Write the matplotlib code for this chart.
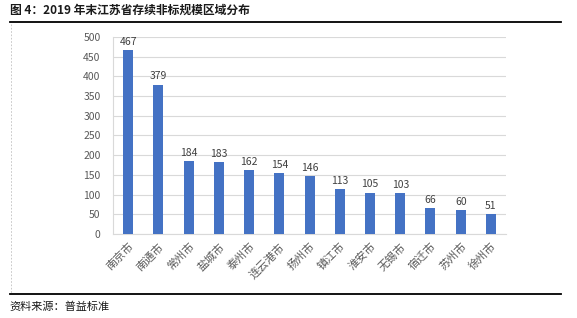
import matplotlib
matplotlib.use("Agg")
import matplotlib.pyplot as plt
from matplotlib.lines import Line2D

plt.rcParams['font.family'] = ['Noto Sans CJK SC', 'DejaVu Sans']

# 数据
cities = ["南京市", "南通市", "常州市", "盐城市", "泰州市", "连云港市", "扬州市",
          "镇江市", "淮安市", "无锡市", "宿迁市", "苏州市", "徐州市"]
values = [467, 379, 184, 183, 162, 154, 146, 113, 105, 103, 66, 60, 51]
yticks = [0, 50, 100, 150, 200, 250, 300, 350, 400, 450, 500]

fig = plt.figure(figsize=(5.77, 3.18), dpi=100)
ax = fig.add_axes([0.196, 0.264, 0.681, 0.62])

x = range(len(cities))
ax.bar(x, values, width=0.33, color="#4472C4", zorder=3)
for i, v in zip(x, values):
    ax.text(i, v + 8, str(v), ha="center", va="bottom", fontsize=7.5, color="#404040")

ax.set_xlim(-0.5, len(cities) - 0.5)
ax.set_ylim(0, 500)
ax.set_yticks(yticks)
ax.set_xticks(list(x))
ax.set_xticklabels(cities, rotation=45, ha="right", rotation_mode="anchor",
                   fontsize=8, color="#595959")
ax.tick_params(axis="y", labelsize=7.5, labelcolor="#595959", length=0, pad=9)
ax.tick_params(axis="x", length=0, pad=5)
ax.grid(axis="y", color="#D9D9D9", linewidth=0.8, zorder=0)
for s in ["top", "right"]:
    ax.spines[s].set_visible(False)
ax.spines["left"].set_color("#D9D9D9")
ax.spines["bottom"].set_color("#D9D9D9")

# 标题与来源
fig.text(0.017, 0.968, "图 4：2019 年末江苏省存续非标规模区域分布", fontsize=8.5,
         fontweight="bold", color="#1a1a1a", va="center", ha="left")
fig.add_artist(Line2D([0.017, 0.972], [0.931, 0.931], color="black", linewidth=1.3))
fig.add_artist(Line2D([0.017, 0.972], [0.075, 0.075], color="black", linewidth=1.3))
fig.add_artist(Line2D([0.019, 0.019], [0.925, 0.08], color="#BFBFBF", linewidth=0.6,
                      linestyle=(0, (2, 2))))
fig.text(0.017, 0.035, "资料来源：普益标准", fontsize=8, color="#1a1a1a",
         va="center", ha="left")

fig.savefig("out.png", dpi=100)
